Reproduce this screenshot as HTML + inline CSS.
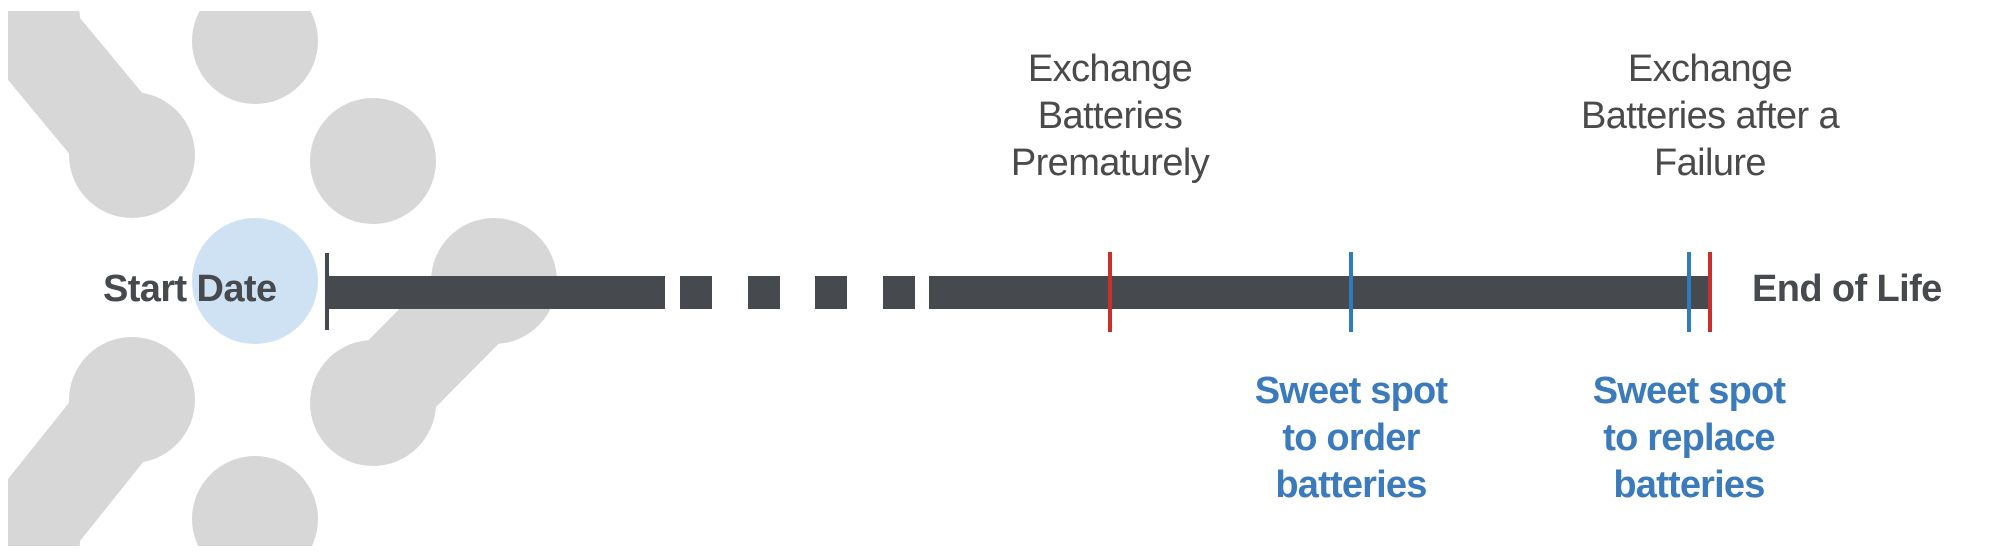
<!DOCTYPE html>
<html><head><meta charset="utf-8"><style>
html,body{margin:0;padding:0;background:#fff;overflow:hidden;width:1992px;height:552px;}
body{position:relative;font-family:"Liberation Sans",sans-serif;}
.t{position:absolute;text-align:center;white-space:nowrap;}
.g{color:#4a4a4a;font-size:38px;line-height:47px;letter-spacing:-0.6px;}
.b{color:#3b7bbb;font-size:38px;line-height:47px;font-weight:bold;letter-spacing:-0.8px;}
.k{color:#46494e;font-size:38px;font-weight:bold;line-height:40px;letter-spacing:-0.6px;}
</style></head><body>
<svg width="1992" height="552" style="position:absolute;left:0;top:0">
<defs><clipPath id="c"><rect x="8" y="11" width="1984" height="535"/></clipPath></defs>
<g clip-path="url(#c)" fill="#d7d7d7" stroke="#d7d7d7">
<circle cx="255" cy="41" r="63" stroke="none"/>
<circle cx="132" cy="155" r="63" stroke="none"/>
<circle cx="20" cy="20" r="60" stroke="none"/>
<line x1="132" y1="155" x2="20" y2="20" stroke-width="95" stroke-linecap="round"/>
<circle cx="373" cy="161" r="63" stroke="none"/>
<circle cx="494" cy="281" r="63" stroke="none"/>
<circle cx="373" cy="403" r="63" stroke="none"/>
<line x1="494" y1="281" x2="373" y2="403" stroke-width="95"/>
<circle cx="132" cy="400" r="63" stroke="none"/>
<circle cx="20" cy="540" r="60" stroke="none"/>
<line x1="132" y1="400" x2="20" y2="540" stroke-width="95" stroke-linecap="round"/>
<circle cx="255" cy="519" r="63" stroke="none"/>
</g>
<circle cx="255" cy="281" r="63" fill="#cfe2f3"/>
<rect x="327" y="276" width="338" height="33" fill="#464a4f"/>
<rect x="680" y="276" width="32" height="33" fill="#464a4f"/>
<rect x="748" y="276" width="32" height="33" fill="#464a4f"/>
<rect x="815" y="276" width="32" height="33" fill="#464a4f"/>
<rect x="883" y="276" width="32" height="33" fill="#464a4f"/>
<rect x="929" y="276" width="781" height="33" fill="#464a4f"/>
<rect x="325" y="253" width="4" height="77" fill="#46494e"/>
<rect x="1108" y="252" width="4" height="80" fill="#c8302c"/>
<rect x="1349" y="252" width="4" height="80" fill="#2f7bbf"/>
<rect x="1687" y="252" width="4" height="80" fill="#2f7bbf"/>
<rect x="1708" y="252" width="4" height="80" fill="#c8302c"/>
</svg>
<div class="t k" style="left:103px;top:269px;">Start Date</div>
<div class="t k" style="left:1752px;top:269px;">End of Life</div>
<div class="t g" style="left:910px;width:400px;top:46px;">Exchange<br>Batteries<br>Prematurely</div>
<div class="t g" style="left:1510px;width:400px;top:46px;">Exchange<br>Batteries after a<br>Failure</div>
<div class="t b" style="left:1151px;width:400px;top:368px;">Sweet spot<br>to order<br>batteries</div>
<div class="t b" style="left:1489px;width:400px;top:368px;">Sweet spot<br>to replace<br>batteries</div>
</body></html>
